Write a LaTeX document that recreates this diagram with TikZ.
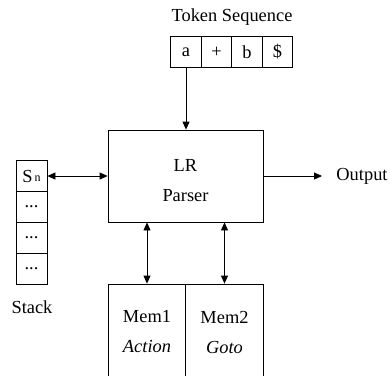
\documentclass[tikz,border=0pt]{standalone}
\usepackage{fontspec}
\setmainfont{Liberation Serif}
\usetikzlibrary{arrows.meta, positioning, calc}

\begin{document}
\begin{tikzpicture}[
    x=1pt, y=-1pt,
    line width=0.8pt,
    every node/.style={font=\fontsize{18.4}{30}\selectfont, inner sep=0pt},
    cell/.style={rectangle, draw, minimum width=30.5pt, minimum height=31pt,
                 align=center},
    stackcell/.style={rectangle, draw, minimum width=31pt, minimum height=31pt,
                      align=center},
    block/.style={rectangle, draw, minimum width=155pt, minimum height=92pt,
                  align=center},
    memcell/.style={rectangle, draw, minimum width=77.5pt, minimum height=96pt,
                    align=center},
    caption/.style={align=center},
    arrow/.style={-{Triangle[length=8pt, width=7pt]}},
    twoway/.style={{Triangle[length=8pt, width=7pt]}-{Triangle[length=8pt, width=7pt]}}
]
    \useasboundingbox (0,0) rectangle (390,375);
    \clip (0,0) rectangle (390,375);

    % token sequence
    \node[caption] (tokcap) at (232,17) {Token Sequence};
    \node[cell] (tka) at (186,52) {a};
    \node[cell] (tkplus) at (216.5,52) {+};
    \node[cell] (tkb) at (247,52) {b};
    \node[cell] (tkend) at (277.5,52) {\$};

    % parser
    \node[block] (par) at (185.5,176) {\rule{0pt}{22pt}LR\\Parser};
    \node[caption, inner xsep=14pt] (out) at (362,176) {Output};

    % stack
    \node[stackcell] (s1) at (31.5,176) {S\raisebox{1pt}{\fontsize{12}{12}\selectfont\,n}};
    \node[stackcell] (s2) at (31.5,207) {...};
    \node[stackcell] (s3) at (31.5,238) {...};
    \node[stackcell] (s4) at (31.5,269) {...};
    \node[caption] (stackcap) at (32,307) {Stack};

    % memories
    \node[memcell] (mem1) at (147,332) {Mem1\\\textit{Action}};
    \node[memcell] (mem2) at (224.5,332) {Mem2\\\textit{Goto}};

    \draw[arrow] (tka.south) -- (tka.south |- par.north);
    \draw[arrow] (par) -- (out);
    \draw[twoway] (s1.east) -- (s1.east -| par.west);
    \draw[twoway] (par.south -| mem1.north) -- (mem1.north);
    \draw[twoway] (par.south -| mem2.north) -- (mem2.north);
\end{tikzpicture}
\end{document}
